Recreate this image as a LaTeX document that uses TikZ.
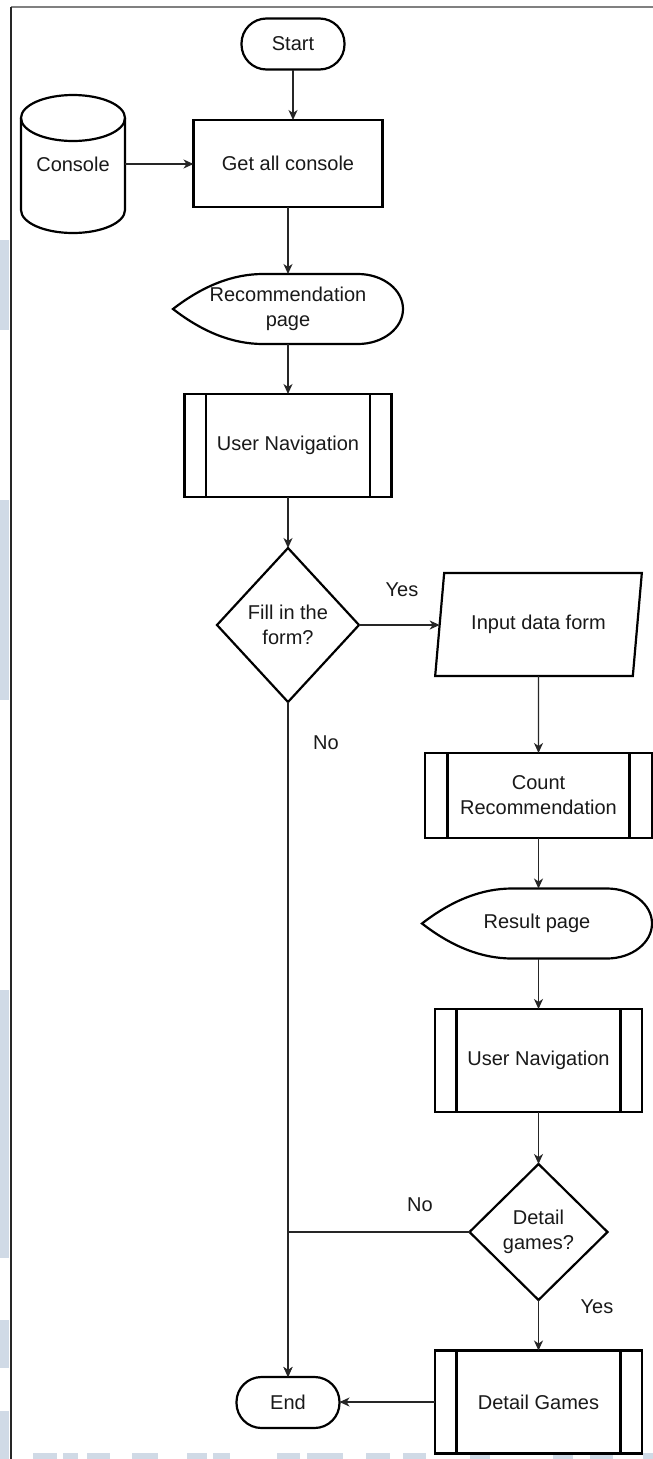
\documentclass[tikz,border=0pt]{standalone}
\usepackage{fontspec}
\setmainfont{Liberation Sans}
\usetikzlibrary{arrows.meta,shapes.geometric}
\definecolor{wm}{RGB}{208,218,230}
% vertical bars of a predefined-process box
\newcommand\sidebars[2]{%
  \draw[line width=2.2pt] ([xshift=#2pt]#1.north west) -- ([xshift=#2pt]#1.south west)
                          ([xshift=-#2pt]#1.north east) -- ([xshift=-#2pt]#1.south east);}
% display (screen) symbol drawn around a named node
\newcommand\pageshape[1]{%
  \draw[outline] (#1.west) .. controls +(30,-23.3) and +(-30,0) .. ([xshift=90pt]#1.north west)
    -- ([xshift=-45pt]#1.north east) arc[start angle=-90, end angle=90, x radius=45, y radius=35]
    -- ([xshift=90pt]#1.south west) .. controls +(-30,0) and +(30,23.3) .. (#1.west) -- cycle;}
\begin{document}
\begin{tikzpicture}[x=1pt,y=-1pt,
  every node/.style={font=\fontsize{20}{25}\selectfont, align=center, text=black!90},
  outline/.style={draw=black, line width=2.2pt},
  terminal/.style={outline, rectangle, rounded corners=25pt, minimum width=103pt, minimum height=51pt, inner sep=0pt, outer sep=0pt},
  proc/.style={outline, rectangle, inner sep=0pt, outer sep=0pt},
  subproc/.style={proc, minimum width=207pt, minimum height=103pt},
  decision/.style={outline, diamond, inner sep=0pt, outer sep=0pt},
  iobox/.style={outline, trapezium, trapezium left angle=71, trapezium right angle=109,
    trapezium stretches=true, minimum width=207pt, minimum height=103pt, inner sep=0pt, outer sep=0pt},
  screen/.style={rectangle, inner sep=0pt, outer sep=0pt, minimum width=230pt, minimum height=70pt},
  flow/.style={line width=1.3pt, draw=black!85, -{Stealth[length=10pt,width=9pt,inset=3pt]}},
  lbl/.style={inner sep=0pt}
]
\useasboundingbox (0,0) rectangle (653,1459);
\fill[white] (0,0) rectangle (653,1459);

% faint background lettering at the margins
\begin{scope}[fill=wm]
  \fill (0,240) rectangle (9,330);
  \fill (0,500) rectangle (9,700);
  \fill (0,990) rectangle (9,1258);
  \fill (0,1320) rectangle (9,1368);
  \fill (0,1411) rectangle (9,1459);
  \foreach \a/\b in {33/57,63/78,87/110,132/158,187/207,213/230,277/300,307/343,
                     366/390,403/426,470/490,553/573,590/613,643/653}
    \fill (\a,1453) rectangle (\b,1459);
\end{scope}

% frame
\draw[line width=2pt, draw=black!50] (11,7) -- (653,7);
\draw[line width=1.6pt, draw=black!85] (11,7) -- (11,1459);

% main column
\node[terminal] (start) at (293,44) {Start};
\node[inner sep=0pt, minimum width=104pt, minimum height=138pt] (console) at (73,164) {Console};
\draw[outline] (73,118) ellipse[x radius=52, y radius=23];
\draw[outline] (21,118) -- (21,210) arc[start angle=180, end angle=0, x radius=52, y radius=23] -- (125,118);
\node[proc, minimum width=189pt, minimum height=87pt] (getall) at (288,163.5) {Get all console};
\node[screen] (rec1) at (288,309) {Recommendation\\page};
\pageshape{rec1}
\node[subproc] (un1) at (288,445.5) {User Navigation};
\sidebars{un1}{21.5}
\node[decision, minimum width=142pt, minimum height=154pt] (dec1) at (288,625) {Fill in the\\form?};

% right column
\node[iobox] (input) at (538.5,624.5) {Input data form};
\node[subproc, minimum width=227pt, minimum height=85pt] (count) at (538.5,795.5) {Count\\Recommendation};
\sidebars{count}{22.5}
\node[screen] (res) at (537,923.5) {Result page};
\pageshape{res}
\node[subproc] (un2) at (538.5,1060.5) {User Navigation};
\sidebars{un2}{21.5}
\node[decision, minimum width=138pt, minimum height=136pt] (dec2) at (538.5,1232) {Detail\\games?};
\node[subproc] (detail) at (538.5,1402) {Detail Games};
\sidebars{detail}{21.5}
\node[terminal] (end) at (288,1402.5) {End};

% connectors
\draw[flow] (start.south) -- (start.south |- getall.north);
\draw[flow] (console.east) -- (console.east -| getall.west);
\draw[flow] (getall.south) -- (getall.south |- rec1.north);
\draw[flow] (rec1.south) -- (rec1.south |- un1.north);
\draw[flow] (un1.south) -- (un1.south |- dec1.north);
\draw[flow] (dec1.east) -- (dec1.east -| input.left side);
\draw[flow] (dec1.south) -- (dec1.south |- end.north);
\draw[flow] (input) -- (count);
\draw[flow] (count.south) -- (count.south |- res.north);
\draw[flow] (count.south |- res.south) -- (count.south |- un2.north);
\draw[flow] (un2.south) -- (un2.south |- dec2.north);
\draw[flow] (dec2.west) -| (end.north);
\draw[flow] (dec2.south) -- (dec2.south |- detail.north);
\draw[flow] (detail.west) -- (detail.west -| end.east);

% branch labels
\node[lbl] (yes1) at (402,590) {Yes};
\node[lbl] (no1) at (326,743) {No};
\node[lbl] (no2) at (420,1205) {No};
\node[lbl] (yes2) at (597,1307) {Yes};
\end{tikzpicture}
\end{document}
